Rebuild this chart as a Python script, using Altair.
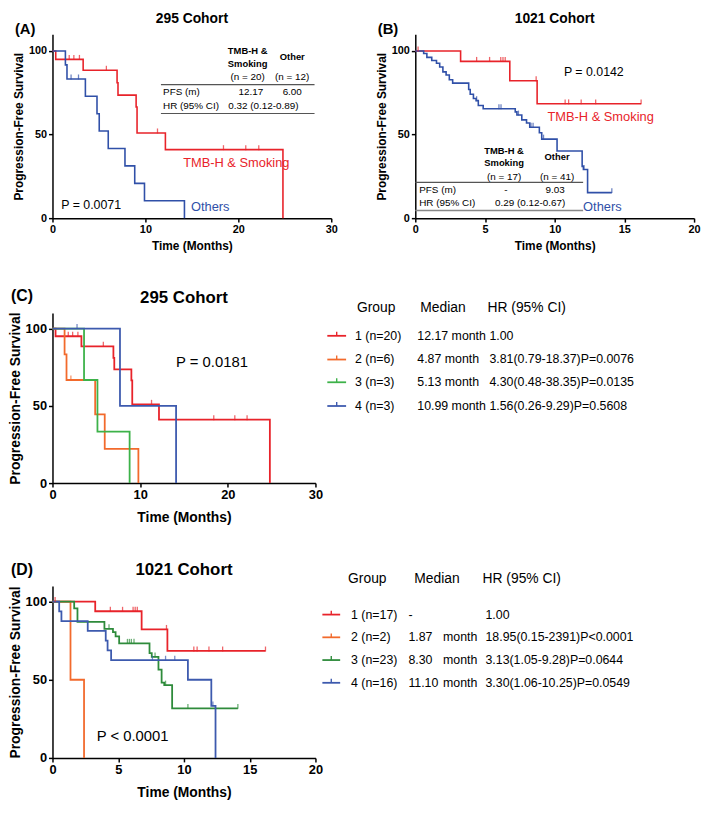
import altair as alt
import pandas as pd

# ---------------- data ----------------
# 295 cohort: TMB-H & Smoking / group 1 (n=20)
c295_g1_time = [0, 0.35, 3.3, 6.95, 7.05, 9.0, 9.1, 12.15, 24.8]
c295_g1_surv = [100, 95, 88.5, 81, 73.6, 66.5, 51, 41, 0]
c295_g1_cens = [1.8, 2.3, 2.9, 5.8, 11.3, 18.4, 20.8, 22.2]
# 295 cohort: Others (n=12)
c295_oth_time = [0, 1.39, 1.56, 3.54, 4.79, 5.03, 6.0, 7.8, 8.85, 9.9, 14.2]
c295_oth_surv = [100, 91.7, 83.3, 72.9, 62.5, 52.1, 41.7, 31.3, 20.8, 10.4, 0]
c295_oth_cens = [2.0, 2.8]
# 295 cohort: groups 2-4
c295_g2_time = [0, 1.38, 1.6, 4.87, 5.96, 9.8]
c295_g2_surv = [100, 83.3, 66.7, 44.4, 22.2, 0]
c295_g2_cens = [2.1]
c295_g3_time = [0, 3.6, 5.13, 8.8]
c295_g3_surv = [100, 66.7, 33.3, 0]
c295_g3_cens = []
c295_g4_time = [0, 7.7, 14.1]
c295_g4_surv = [100, 50, 0]
c295_g4_cens = [2.8]

# 1021 cohort: TMB-H & Smoking / group 1 (n=17)
c1021_g1_time = [0, 3.25, 6.78, 8.74, 16.2]
c1021_g1_surv = [100, 93.8, 82.2, 68.4, 68.4]
c1021_g1_cens = [0.2, 4.4, 5.33, 6.13, 6.29, 6.45, 8.67, 10.75, 11.0, 11.9, 12.94, 16.2]
# 1021 cohort: Others (n=41)
c1021_oth_time = [0, 0.6, 0.83, 1.18, 1.52, 1.75, 1.98, 2.21, 2.44, 2.68, 3.83, 3.94, 4.17,
                  4.36, 4.52, 4.87, 7.17, 7.29, 7.64, 7.98, 8.21, 8.9, 9.07, 10.17, 11.97,
                  12.06, 12.36, 14.1]
c1021_oth_surv = [100, 98.5, 96.2, 94.3, 92.7, 90.4, 87.5, 85.6, 82.8, 80.8, 77.0, 74.1, 71.6,
                  70.3, 67.4, 65.5, 63.6, 61.7, 58.8, 56.9, 54.4, 51.1, 47.3, 40.2, 31.0,
                  29.1, 15.3, 15.3]
c1021_oth_cens = [4.4, 6.0, 6.15, 7.4, 8.3, 8.45, 9.2, 12.1, 14.1]
# 1021 cohort: groups 2-4
c1021_g2_time = [0, 1.37, 2.4]
c1021_g2_surv = [100, 50, 0]
c1021_g2_cens = []
c1021_g3_time = [0, 1.65, 1.9, 3.95, 4.6, 4.8, 5.07, 7.38, 7.55, 8.06, 8.3, 8.5, 9.1, 14.1]
c1021_g3_surv = [100, 95.7, 87.0, 82.6, 80.5, 77.8, 73.3, 67.0, 64.6, 56.5, 48.2, 46.6, 31.7, 31.7]
c1021_g3_cens = [4.3, 5.7, 5.85, 6.0, 6.2, 7.8, 8.6, 10.3, 14.1]
c1021_g4_time = [0, 0.51, 0.68, 2.68, 4.05, 4.19, 4.46, 10.3, 12.08, 12.4]
c1021_g4_surv = [100, 93.75, 87.5, 81.25, 75.0, 68.75, 62.5, 50.0, 33.3, 0]
c1021_g4_cens = [7.6, 8.6, 9.3, 12.2]

# legend / table texts
c295_labels = ["1 (n=20)", "2 (n=6)", "3 (n=3)", "4 (n=3)"]
c295_medians = ["12.17 month", "4.87 month", "5.13 month", "10.99 month"]
c295_hr = ["1.00", "3.81(0.79-18.37)P=0.0076", "4.30(0.48-38.35)P=0.0135", "1.56(0.26-9.29)P=0.5608"]
c1021_labels = ["1 (n=17)", "2 (n=2)", "3 (n=23)", "4 (n=16)"]
c1021_medians = ["-", "1.87", "8.30", "11.10"]
c1021_month = ["", "month", "month", "month"]
c1021_hr = ["1.00", "18.95(0.15-2391)P<0.0001", "3.13(1.05-9.28)P=0.0644", "3.30(1.06-10.25)P=0.0549"]

# ---------------- styles ----------------
RED = "#E8232A"
BLUE_AB = "#3050A8"
ORANGE = "#F26A2C"
GREEN_C = "#3DB249"
GREEN_D = "#2E8B3B"
BLUE_CD = "#3D5AAE"
RULE = "#555555"

W_AB, H_AB = 282, 186
W_CD, H_C, H_D = 266, 172, 174


def surv_at(t, times, surv):
    v = surv[0]
    for ti, si in zip(times, surv):
        if ti <= t:
            v = si
        else:
            break
    return v


def curve_frames(field, groups):
    rows, cens = [], []
    for name, T, S, C in groups:
        rows += [{"t": t, "s": s, field: name} for t, s in zip(T, S)]
        cens += [{"t": c, "s": surv_at(c, T, S), field: name} for c in C]
    return pd.DataFrame(rows), pd.DataFrame(cens, columns=["t", "s", field])


def txt(s, x, y, size, color="black", weight="normal", align="left"):
    return alt.Chart(pd.DataFrame({"label": [s]})).mark_text(
        fontSize=size, color=color, fontWeight=weight, align=align, baseline="middle"
    ).encode(text="label:N", x=x, y=y)


def rule(x1, x2, y, color=RULE, width=1.2):
    return alt.Chart(pd.DataFrame({"k": [0]})).mark_rule(color=color, strokeWidth=width).encode(
        x=x1, x2=x2, y=y)


def vrule(x, y1, y2, color, width=1.4):
    return alt.Chart(pd.DataFrame({"k": [0]})).mark_rule(color=color, strokeWidth=width).encode(
        x=x, y=y1, y2=y2)


def km_panel(field, groups, names, colors, xmax, xticks, w, h, lab_fs, tit_fs,
             xtit_pad, ytit_pad, sw, extra):
    lines_df, cens_df = curve_frames(field, groups)
    xs = alt.Scale(domain=[0, xmax], nice=False)
    ys = alt.Scale(domain=[0, 110], nice=False)
    xax = alt.Axis(values=xticks, title="Time (Months)", labelFontSize=lab_fs,
                   titleFontSize=tit_fs, titlePadding=xtit_pad, format="d", labelFlush=False)
    yax = alt.Axis(values=[0, 50, 100], title="Progression-Free Survival", labelFontSize=lab_fs,
                   titleFontSize=tit_fs, titlePadding=ytit_pad)
    color = alt.Color(f"{field}:N", scale=alt.Scale(domain=names, range=colors), legend=None)
    lines = alt.Chart(lines_df).mark_line(interpolate="step-after", strokeWidth=sw).encode(
        x=alt.X("t:Q", scale=xs, axis=xax), y=alt.Y("s:Q", scale=ys, axis=yax), color=color)
    ticks = alt.Chart(cens_df).mark_tick(orient="vertical", size=5, thickness=1.3, yOffset=-2).encode(
        x="t:Q", y="s:Q", color=color)
    return alt.layer(lines, ticks, *extra).properties(width=w, height=h)


D = alt.datum
V = alt.value

# ---------------- Panel A ----------------
extra_a = [
    txt("(A)", V(-38), V(-5), 15, weight="bold"),
    txt("295 Cohort", V(W_AB / 2), V(-15), 14, weight="bold", align="center"),
    txt("TMB-H &", D(21.0), D(100), 9.5, weight="bold", align="center"),
    txt("Smoking", D(21.0), D(92.5), 9.5, weight="bold", align="center"),
    txt("Other", D(25.8), D(96.2), 9.5, weight="bold", align="center"),
    txt("(n = 20)", D(21.0), D(84.5), 10, align="center"),
    txt("(n = 12)", D(25.8), D(84.5), 10, align="center"),
    rule(D(11.67), D(28.2), D(79.9)),
    txt("PFS (m)", D(11.9), D(75.3), 10),
    txt("12.17", D(21.35), D(75.3), 10, align="center"),
    txt("6.00", D(25.8), D(75.3), 10, align="center"),
    txt("HR (95% CI)", D(11.9), D(67.2), 10),
    txt("0.32 (0.12-0.89)", D(22.7), D(67.2), 10, align="center"),
    rule(D(11.67), D(28.2), D(62.6)),
    txt("TMB-H & Smoking", D(14.06), D(32.8), 13, color=RED),
    txt("Others", D(14.9), D(6.9), 13, color=BLUE_AB),
    txt("P = 0.0071", D(0.94), D(8), 12.5),
]
panel_a = km_panel(
    "grpA",
    [("TMB-H & Smoking", c295_g1_time, c295_g1_surv, c295_g1_cens),
     ("Others", c295_oth_time, c295_oth_surv, c295_oth_cens)],
    ["TMB-H & Smoking", "Others"], [RED, BLUE_AB], 30, [0, 10, 20, 30],
    W_AB, H_AB, 11, 12, 6, 3, 1.6, extra_a)

# ---------------- Panel B ----------------
extra_b = [
    txt("(B)", V(-38), V(-5), 15, weight="bold"),
    txt("1021 Cohort", V(W_AB / 2), V(-15), 14, weight="bold", align="center"),
    txt("P = 0.0142", D(10.66), D(87.4), 12.5),
    txt("TMB-H & Smoking", D(9.48), D(60.3), 13, color=RED),
    txt("Others", D(12.04), D(6.9), 13, color=BLUE_AB),
    txt("TMB-H &", D(6.37), D(40.2), 9.5, weight="bold", align="center"),
    txt("Smoking", D(6.37), D(32.8), 9.5, weight="bold", align="center"),
    txt("Other", D(10.17), D(36.8), 9.5, weight="bold", align="center"),
    txt("(n = 17)", D(6.37), D(24.7), 10, align="center"),
    txt("(n = 41)", D(10.17), D(24.7), 10, align="center"),
    rule(D(0), D(12.04), D(21.4)),
    txt("PFS (m)", D(0.28), D(17.0), 10),
    txt("-", D(6.5), D(17.0), 10, align="center"),
    txt("9.03", D(10.03), D(17.0), 10, align="center"),
    txt("HR (95% CI)", D(0.28), D(9.0), 10),
    txt("0.29 (0.12-0.67)", D(8.24), D(9.0), 10, align="center"),
    rule(D(0), D(12.04), D(4.6), color="#888888", width=1.6),
]
panel_b = km_panel(
    "grpB",
    [("TMB-H & Smoking", c1021_g1_time, c1021_g1_surv, c1021_g1_cens),
     ("Others", c1021_oth_time, c1021_oth_surv, c1021_oth_cens)],
    ["TMB-H & Smoking", "Others"], [RED, BLUE_AB], 20, [0, 5, 10, 15, 20],
    W_AB, H_AB, 11, 12, 6, 3, 1.6, extra_b)


# ---------------- legends for C / D ----------------
def legend_layers(colors, labels, meds, months, hrs, head_y, rows_y, line_x, col1, col_med,
                  col_month, col_hr, head_x):
    out = [
        txt("Group", V(head_x[0]), V(head_y), 14),
        txt("Median", V(head_x[1]), V(head_y), 14),
        txt("HR (95% CI)", V(head_x[2]), V(head_y), 14),
    ]
    for i, ry in enumerate(rows_y):
        out.append(rule(V(line_x[0]), V(line_x[1]), V(ry), color=colors[i], width=1.8))
        out.append(vrule(V((line_x[0] + line_x[1]) / 2), V(ry - 4), V(ry), colors[i]))
        out.append(txt(labels[i], V(col1), V(ry), 12.5))
        out.append(txt(meds[i], V(col_med), V(ry), 12.5))
        if months is not None and months[i]:
            out.append(txt(months[i], V(col_month), V(ry), 12.5))
        out.append(txt(hrs[i], V(col_hr), V(ry), 12.5))
    return out


colors_c = [RED, ORANGE, GREEN_C, BLUE_CD]
extra_c = [
    txt("(C)", V(-42), V(-17), 16, weight="bold"),
    txt("295 Cohort", V(W_CD / 2), V(-15), 17, weight="bold", align="center"),
    txt("P = 0.0181", D(14.1), D(78.5), 15),
] + legend_layers(colors_c, c295_labels, c295_medians, None, c295_hr,
                  -5, [23, 47, 70, 94], [278, 297], 306, 369, 0, 442, [308, 372, 440])
panel_c = km_panel(
    "grpC",
    [("1", c295_g1_time, c295_g1_surv, c295_g1_cens),
     ("2", c295_g2_time, c295_g2_surv, c295_g2_cens),
     ("3", c295_g3_time, c295_g3_surv, c295_g3_cens),
     ("4", c295_g4_time, c295_g4_surv, c295_g4_cens)],
    ["1", "2", "3", "4"], colors_c, 30, [0, 10, 20, 30],
    W_CD, H_C, 13, 14, 9, 3, 1.8, extra_c)

colors_d = [RED, ORANGE, GREEN_D, BLUE_CD]
extra_d = [
    txt("(D)", V(-42), V(-16), 16, weight="bold"),
    txt("1021 Cohort", V(W_CD / 2), V(-16), 17, weight="bold", align="center"),
    txt("P < 0.0001", D(3.36), D(14.3), 15),
] + legend_layers(colors_d, c1021_labels, c1021_medians, c1021_month, c1021_hr,
                  -7, [29, 52, 75, 98], [273, 291], 302, 360, 395, 438, [299, 366, 435])
panel_d = km_panel(
    "grpD",
    [("1", c1021_g1_time, c1021_g1_surv, c1021_g1_cens),
     ("2", c1021_g2_time, c1021_g2_surv, c1021_g2_cens),
     ("3", c1021_g3_time, c1021_g3_surv, c1021_g3_cens),
     ("4", c1021_g4_time, c1021_g4_surv, c1021_g4_cens)],
    ["1", "2", "3", "4"], colors_d, 20, [0, 5, 10, 15, 20],
    W_CD, H_D, 13, 14, 9, 3, 1.8, extra_d)

# empty placeholder cell for the 2-column grid (also sets the height of row 2)
blank = alt.Chart(pd.DataFrame({"k": [0]})).mark_point(opacity=0).encode(
    x=V(0), y=V(0)).properties(width=1, height=H_C + 8)

# ---------------- layout ----------------
chart = alt.concat(
    panel_a, panel_b, panel_c, blank, panel_d,
    columns=2, bounds="flush", align="each", spacing={"row": 96, "column": 85}
).resolve_scale(
    color="independent"
).properties(
    padding=0
).configure(
    font="Liberation Sans"
).configure_view(
    strokeWidth=0
).configure_axis(
    domainColor="black", domainWidth=1.5, tickColor="black", tickWidth=1.5, tickSize=4,
    labelColor="black", titleColor="black", labelFontWeight="bold", titleFontWeight="bold",
    grid=False, labelPadding=2
)

chart.save("out.html", embed_options={"renderer": "svg", "actions": False})
